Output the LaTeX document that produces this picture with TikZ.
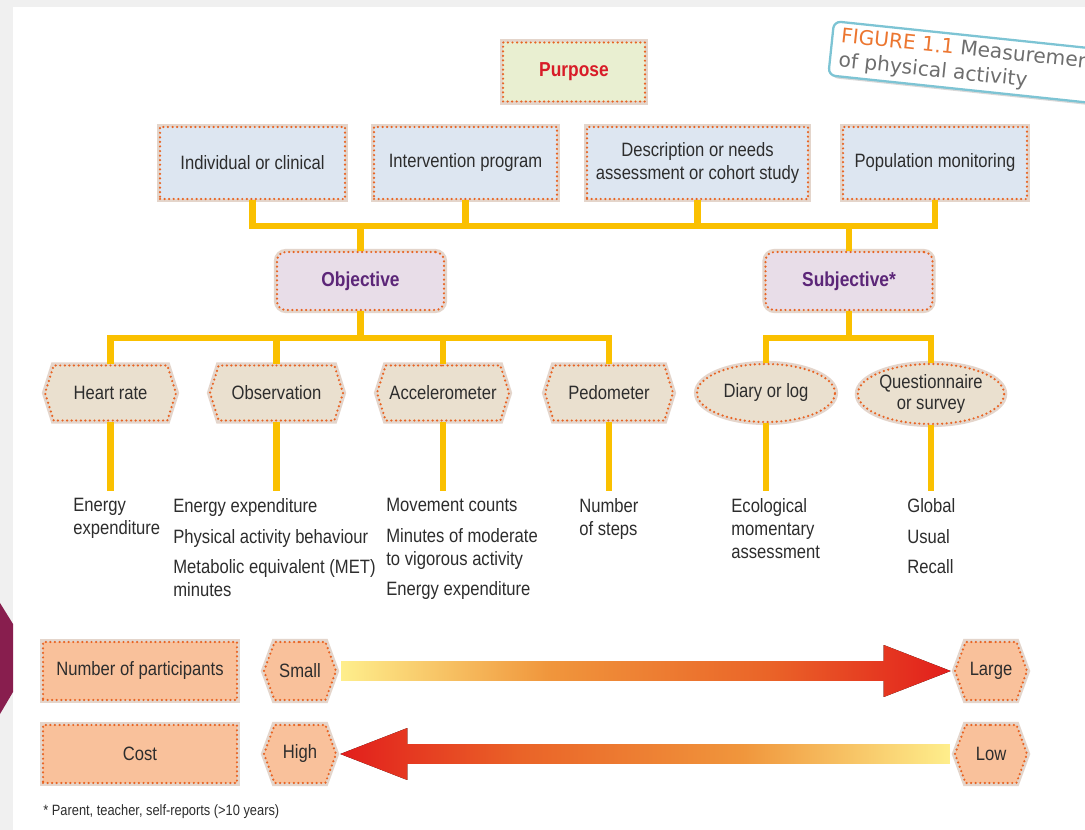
\documentclass[tikz,border=0pt]{standalone}
\usepackage{fontspec}
\setmainfont{Liberation Sans}[FakeStretch=0.86]
\newfontfamily\labelfont{DejaVu Sans}
\usetikzlibrary{shapes.geometric, shapes.symbols, shadows, positioning, calc}

\definecolor{pagegrey}{RGB}{240,240,240}
\definecolor{maroonbar}{RGB}{136,30,78}
\definecolor{dotorange}{RGB}{232,100,35}
\definecolor{glowbrown}{RGB}{150,90,50}
\definecolor{inkgrey}{RGB}{45,45,45}
\definecolor{purposefill}{RGB}{233,239,209}
\definecolor{purposered}{RGB}{216,28,40}
\definecolor{usefill}{RGB}{221,230,241}
\definecolor{typefill}{RGB}{232,221,232}
\definecolor{typepurple}{RGB}{92,38,120}
\definecolor{toolfill}{RGB}{234,224,207}
\definecolor{scalefill}{RGB}{249,193,155}
\definecolor{linkyellow}{RGB}{250,192,0}
\definecolor{tagblue}{RGB}{125,196,212}
\definecolor{figorange}{RGB}{236,118,48}
\definecolor{taggrey}{RGB}{110,110,110}
\definecolor{rampyellow}{RGB}{254,238,140}
\definecolor{ramporange}{RGB}{240,150,60}
\definecolor{rampdeep}{RGB}{234,100,40}
\definecolor{rampred}{RGB}{226,30,28}

\pgfdeclarehorizontalshading{warmramp}{100bp}{color(0bp)=(rampyellow); color(25bp)=(rampyellow); color(42bp)=(ramporange); color(60bp)=(rampdeep); color(75bp)=(rampred); color(100bp)=(rampred)}

\tikzset{
    dotline/.style={draw=dotorange, line width=1.4pt, dash pattern=on 0pt off 2.6pt, line cap=round},
    glow/.style={preaction={draw=glowbrown, draw opacity=0.25, line width=3.5pt, solid}},
    card/.style={rectangle, dotline, glow, text=inkgrey, font=\fontsize{11}{13}\selectfont, align=center, inner sep=2pt},
    purposebox/.style={card, fill=purposefill, text=purposered, font=\bfseries\fontsize{11.5}{13}\selectfont, minimum width=2.84cm, minimum height=1.18cm},
    usebox/.style={card, fill=usefill, minimum height=1.44cm},
    typebox/.style={card, rounded corners=5pt, fill=typefill, text=typepurple, font=\bfseries\fontsize{11.5}{13}\selectfont, minimum width=3.34cm, minimum height=1.16cm},
    toolhex/.style={card, signal, signal to=west and east, signal pointer angle=145, fill=toolfill, minimum height=1.1cm},
    toolell/.style={card, ellipse, fill=toolfill, minimum width=2.76cm, minimum height=1.16cm, inner sep=0pt},
    sizebox/.style={card, fill=scalefill, minimum width=3.88cm, minimum height=1.16cm},
    sizehex/.style={card, signal, signal to=west and east, signal pointer angle=140, fill=scalefill, minimum width=1.44cm, minimum height=1.16cm, inner sep=1pt},
    conn/.style={draw=linkyellow, line width=3.6pt},
    result/.style={anchor=north west, inner sep=0pt, align=left, text=inkgrey, font=\fontsize{11}{13}\selectfont},
    figtag/.style={draw=tagblue, line width=1.3pt, rounded corners=4pt, fill=white, drop shadow={opacity=0.3, shadow xshift=1.5pt, shadow yshift=-1.5pt}, font=\labelfont\fontsize{11.5}{14}\selectfont, text=taggrey, align=left, inner xsep=5pt, inner ysep=3pt}
}

\begin{document}
\begin{tikzpicture}[x=0.02cm, y=-0.02cm]
    \useasboundingbox (0,0) rectangle (1085,830);
    % Page
    \fill[pagegrey] (0,0) rectangle (1085,830);
    \fill[white] (13,7) rectangle (1085,830);
    \fill[maroonbar] (0,603) -- (13,624) -- (13,692) -- (0,714) -- cycle;

    % Figure tag
    \begin{scope}
        \clip (0,0) rectangle (1085,830);
        \node[figtag, rotate=-6, anchor=north west] (tag) at (833,20) {{\color{figorange}FIGURE 1.1} Measurement\\of physical activity};
    \end{scope}

    % Nodes
    \node (purpose) [purposebox] at (574,72) {Purpose};

    \node (indiv) [usebox, minimum width=3.7cm] at (252.5,163) {Individual or clinical};
    \node (interv) [usebox, minimum width=3.66cm] at (465.5,163) {Intervention program};
    \node (descr) [usebox, minimum width=4.42cm] at (697.5,163) {Description or needs\\assessment or cohort study};
    \node (popmon) [usebox, minimum width=3.68cm] at (935,163) {Population monitoring};

    \node (objective) [typebox] at (360.5,281) {Objective};
    \node (subjective) [typebox] at (849,281) {Subjective*};

    \node (heart) [toolhex, minimum width=2.62cm] at (110.5,393) {Heart rate};
    \node (observ) [toolhex, minimum width=2.66cm] at (276.5,393) {Observation};
    \node (accel) [toolhex, minimum width=2.64cm] at (443,393) {Accelerometer};
    \node (pedom) [toolhex, minimum width=2.56cm] at (609,393) {Pedometer};
    \node (diary) [toolell] at (766,393) {Diary or log};
    \node (quest) [toolell, minimum height=1.2cm] at (931,394) {Questionnaire\\[-1pt]or survey};

    \node (heartout) [result] at (73,498) {Energy\\expenditure};
    \node (observout) [result] at (173,498) {Energy expenditure\\[4.5pt]Physical activity behaviour\\[4.5pt]Metabolic equivalent (MET)\\minutes};
    \node (accelout) [result] at (386,498) {Movement counts\\[4.5pt]Minutes of moderate\\to vigorous activity\\[4.5pt]Energy expenditure};
    \node (pedomout) [result] at (579,498) {Number\\of steps};
    \node (diaryout) [result] at (731,498) {Ecological\\momentary\\assessment};
    \node (questout) [result] at (907,498) {Global\\[4.5pt]Usual\\[4.5pt]Recall};

    \node (nparts) [sizebox] at (140,671) {Number of participants};
    \node (small) [sizehex] at (300,671) {Small};
    \node (large) [sizehex] at (991,671) {Large};
    \node (cost) [sizebox] at (140,754) {Cost};
    \node (high) [sizehex] at (300,754) {High};
    \node (low) [sizehex] at (991,754) {Low};

    \node (footnote) [anchor=west, inner sep=0pt, text=inkgrey, font=\fontsize{8.5}{10}\selectfont] at (43,812) {* Parent, teacher, self-reports (>10 years)};

    % Connectors
    \coordinate (barone) at (0,226);
    \coordinate (bartwo) at (0,338);
    \coordinate (stemend) at (0,491);

    \draw[conn] (indiv.south) -- (indiv.south |- barone) -| (popmon.south);
    \draw[conn] (interv.south) -- (interv.south |- barone);
    \draw[conn] (descr.south) -- (descr.south |- barone);
    \draw[conn] (objective.north) -- (objective.north |- barone);
    \draw[conn] (subjective.north) -- (subjective.north |- barone);

    \draw[conn] (heart.north) -- (heart.north |- bartwo) -| (pedom.north);
    \draw[conn] (observ.north) -- (observ.north |- bartwo);
    \draw[conn] (accel.north) -- (accel.north |- bartwo);
    \draw[conn] (objective.south) -- (objective.south |- bartwo);
    \draw[conn] (diary.north) -- (diary.north |- bartwo) -| (quest.north);
    \draw[conn] (subjective.south) -- (subjective.south |- bartwo);

    \foreach \tool in {heart, observ, accel, pedom, diary, quest}
        \draw[conn] (\tool.south) -- (\tool.south |- stemend);

    % Arrows
    \fill[shading=warmramp] ([xshift=0.08cm, yshift=0.2cm]small.east) -- ([xshift=-1.4cm, yshift=0.2cm]large.west)
        -- ([xshift=-1.4cm, yshift=0.52cm]large.west) -- ([xshift=-0.06cm]large.west)
        -- ([xshift=-1.4cm, yshift=-0.52cm]large.west) -- ([xshift=-1.4cm, yshift=-0.2cm]large.west)
        -- ([xshift=0.08cm, yshift=-0.2cm]small.east) -- cycle;
    \fill[shading=warmramp, shading angle=180] ([xshift=-0.08cm, yshift=0.2cm]low.west) -- ([xshift=1.4cm, yshift=0.2cm]high.east)
        -- ([xshift=1.4cm, yshift=0.52cm]high.east) -- ([xshift=0.06cm]high.east)
        -- ([xshift=1.4cm, yshift=-0.52cm]high.east) -- ([xshift=1.4cm, yshift=-0.2cm]high.east)
        -- ([xshift=-0.08cm, yshift=-0.2cm]low.west) -- cycle;
\end{tikzpicture}
\end{document}
